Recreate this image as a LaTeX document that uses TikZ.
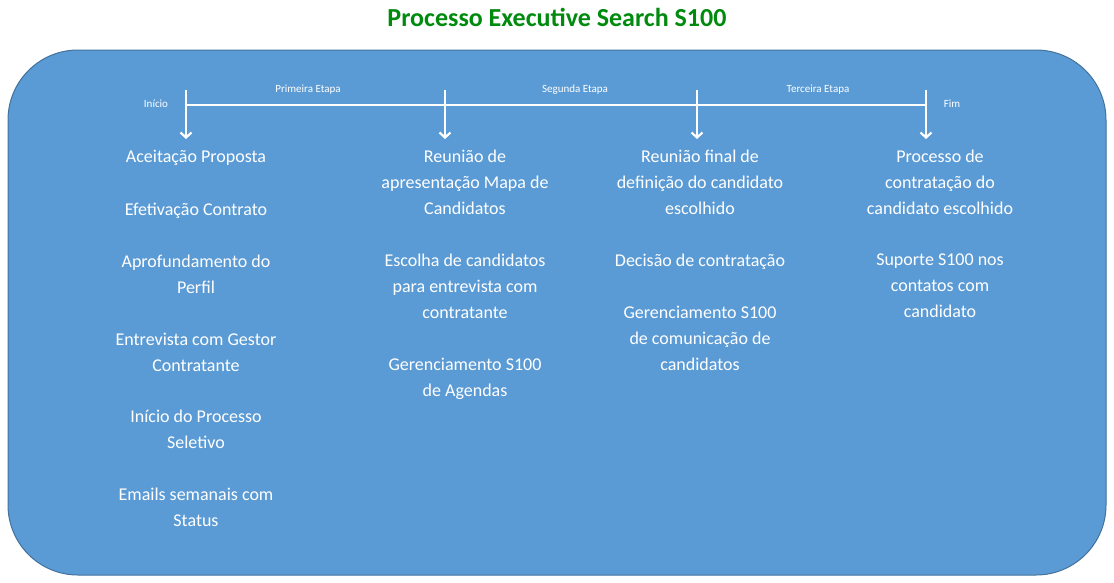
\documentclass[tikz,border=0pt]{standalone}
\usepackage{fontspec}
\setmainfont{Carlito}
\usetikzlibrary{arrows.meta}
\definecolor{boxblue}{HTML}{5B9BD5}
\definecolor{boxedge}{HTML}{41719C}
\definecolor{titlegreen}{HTML}{008A0E}
\begin{document}
\begin{tikzpicture}[x=1pt,y=-1pt,
  item/.style={text=white,align=center,anchor=north,inner sep=0pt,font=\fontsize{18}{26}\selectfont},
  small/.style={text=white,inner sep=0pt,font=\fontsize{11}{13}\selectfont},
  arr/.style={draw=white,line width=2.2pt,-{Straight Barb[length=5pt,width=11pt]}}]
\useasboundingbox (0,0) rectangle (1114,582);
\node[font=\fontsize{26}{30}\selectfont\bfseries,text=titlegreen] (title) at (557,17) {Processo Executive Search S100};
\draw[fill=boxblue,draw=boxedge,line width=1pt,rounded corners=70pt] (8,50) rectangle (1106,575);
% timeline
\coordinate (t1) at (186,105); \coordinate (t2) at (445,105);
\coordinate (t3) at (697,105); \coordinate (t4) at (926,105);
\draw[white,line width=2.2pt] (t1) -- (t4);
\foreach \n/\x in {a1/186,a2/445,a3/697,a4/926}{
  \coordinate (\n s) at (\x,90); \coordinate (\n e) at (\x,139);
  \draw[arr] (\n s) -- (\n e);}
\node[small] (ini) at (156,104) {Início};
\node[small] (e1) at (308,90) {Primeira Etapa};
\node[small] (e2) at (575,90) {Segunda Etapa};
\node[small] (e3) at (818,90) {Terceira Etapa};
\node[small] (fim) at (952,104) {Fim};
% column 1
\node[item] (c1a) at (196,150) {Aceitação Proposta};
\node[item] (c1b) at (196,203) {Efetivação Contrato};
\node[item] (c1c) at (196,255) {Aprofundamento do\\Perfil};
\node[item] (c1d) at (196,333) {Entrevista com Gestor\\Contratante};
\node[item] (c1e) at (196,410) {Início do Processo\\Seletivo};
\node[item] (c1f) at (196,488) {Emails semanais com\\Status};
% column 2
\node[item] (c2a) at (465,150) {Reunião de\\apresentação Mapa de\\Candidatos};
\node[item] (c2b) at (465,254) {Escolha de candidatos\\para entrevista com\\contratante};
\node[item] (c2c) at (465,358) {Gerenciamento S100\\de Agendas};
% column 3
\node[item] (c3a) at (700,150) {Reunião final de\\definição do candidato\\escolhido};
\node[item] (c3b) at (700,254) {Decisão de contratação};
\node[item] (c3c) at (700,306) {Gerenciamento S100\\de comunicação de\\candidatos};
% column 4
\node[item] (c4a) at (940,150) {Processo de\\contratação do\\candidato escolhido};
\node[item] (c4b) at (940,254) {Suporte S100 nos\\contatos com\\candidato};
\end{tikzpicture}
\end{document}
